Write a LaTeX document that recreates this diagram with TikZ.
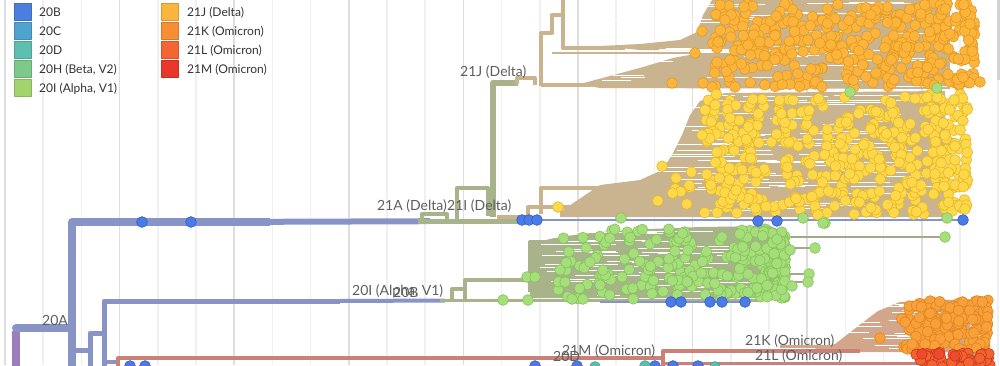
\documentclass[tikz,border=0pt]{standalone}
\usepackage{fontspec}
\setmainfont{Lato}
\definecolor{bb}{HTML}{8893C6}
\definecolor{pur}{HTML}{9C7FB8}
\definecolor{sage}{HTML}{A8B38B}
\definecolor{tanb}{HTML}{C9B48F}
\definecolor{sal}{HTML}{C98178}
\definecolor{omb}{HTML}{D2A68B}
\definecolor{gridl}{HTML}{F0F0F0}
\definecolor{gridd}{HTML}{DEDEDE}
\definecolor{labc}{HTML}{5E5E5E}
\definecolor{legc}{HTML}{333333}
\definecolor{cBlue}{HTML}{4C7BE6}
\definecolor{cBlueD}{HTML}{2F5CC8}
\definecolor{cTeal}{HTML}{5BBFB0}
\definecolor{cTealD}{HTML}{3FA393}
\definecolor{cGreen}{HTML}{A5DE7B}
\definecolor{cGreenD}{HTML}{86C25A}
\definecolor{cYel}{HTML}{FDD84B}
\definecolor{cYelD}{HTML}{E5B82A}
\definecolor{cOr}{HTML}{FBB43C}
\definecolor{cOrD}{HTML}{E39A22}
\definecolor{cOm}{HTML}{F8A03A}
\definecolor{cOmD}{HTML}{E2861F}
\definecolor{cRed}{HTML}{EE4A2C}
\definecolor{cRedD}{HTML}{CC3520}
\definecolor{l20B}{HTML}{4A7FDD}
\definecolor{l20C}{HTML}{4FA3CF}
\definecolor{l20D}{HTML}{5DBFAF}
\definecolor{l20H}{HTML}{7DC98A}
\definecolor{l20I}{HTML}{A2D46E}
\definecolor{l21J}{HTML}{F9B53D}
\definecolor{l21K}{HTML}{F78E35}
\definecolor{l21L}{HTML}{F46533}
\definecolor{l21M}{HTML}{E9372B}
\tikzset{
  lab/.style={text=labc, font=\fontsize{14}{16}\selectfont, inner sep=0pt, anchor=base west},
  legt/.style={text=legc, font=\fontsize{12}{14}\selectfont, inner sep=0pt, anchor=base west},
  sq/.style={minimum size=17pt, inner sep=0pt, draw=#1!85!black, fill=#1, line width=0.6pt},
  gapline/.style={white, line width=0.9pt},
}
% random white gaps: x1 x2 y1 y2 n maxlen
\newcommand\gapsW[6]{%
  \foreach \i in {1,...,#5}{%
    \pgfmathsetmacro\yy{#3+rnd*(#4-#3)}%
    \pgfmathsetmacro\xa{#1+rnd*(#2-#1)}%
    \pgfmathsetmacro\xb{\xa+15+rnd*#6}%
    \draw[gapline] (\xa,\yy)--(\xb,\yy);
  }}
% random dots: x1 x2 y1 y2 n fill draw exponent
\newcommand\scat[8]{%
  \foreach \i in {1,...,#5}{%
    \pgfmathsetmacro\yy{#3+rnd*(#4-#3)}%
    \pgfmathsetmacro\xx{#2-(#2-#1)*pow(rnd*0.998+0.002,#8)}%
    \filldraw[fill=#6,draw=#7,line width=0.6pt] (\xx,\yy) circle (5.4pt);
  }}
\newcommand\dotat[3]{\filldraw[fill=#1,draw=#2,line width=0.6pt] #3 circle (5.4pt);}
\begin{document}
\begin{tikzpicture}[x=1pt,y=-1pt,line join=round]
\useasboundingbox (0,0) rectangle (1000,365);
\begin{scope}
\clip (0,0) rectangle (1000,365);
\pgfmathsetseed{11}
% grid
\foreach \k in {0,...,26}{%
  \pgfmathsetmacro\gx{5+38.2*\k}%
  \pgfmathtruncatemacro\mm{mod(\k,3)}%
  \ifnum\mm=0 \draw[gridd,line width=1.5pt] (\gx,0)--(\gx,365);
  \else \draw[gridl,line width=1.5pt] (\gx,0)--(\gx,365);\fi}
\fill[gray!35] (996.5,0) rectangle (1000,80);
% ---- cluster envelopes
\fill[tanb] (600,46)--(640,44)--(680,40)--(697,32)--(703,15)--(712,0)--(950,0)--(950,50)--(640,50)--cycle;
\fill[tanb] (580,84)--(610,76)--(643,67)--(673,58)--(700,53)--(950,50)--(950,89)--(600,88)--cycle;
\fill[tanb] (600,185)--(640,180)--(662,170)--(672,155)--(682,135)--(690,115)--(700,101)--(725,93)--(945,91)--(945,217)--(560,217)--(560,212)--cycle;
\fill[sage] (530,244)--(558,237)--(600,232)--(650,229)--(700,227)--(770,226)--(785,232)--(785,296)--(760,298)--(530,298)--cycle;
\fill[omb] (835,344)--(848,334)--(862,323)--(878,311)--(900,302)--(970,299)--(970,352)--(800,352)--cycle;
% gaps
\gapsW{600}{900}{2}{88}{45}{80}
\gapsW{640}{900}{95}{214}{75}{90}
\gapsW{540}{740}{231}{296}{55}{60}
\gapsW{845}{910}{304}{349}{20}{40}
% ---- main tree
\draw[pur,line width=8pt] (16,372)--(16,331);
\draw[bb,line width=8pt,line cap=round] (16,328)--(72,328);
\draw[bb,line width=7.5pt] (72,372)--(72,222)--(270,222);
\draw[bb,line width=6pt] (268,221.8)--(430,221.2);
\draw[sage,line width=5pt] (418,221)--(522,221);
\draw[sage,line width=4pt] (422,221)--(422,214)--(447,214)--(447,221);
\draw[sage,line width=4pt] (457,221)--(457,188)--(488,188)--(488,216);
\draw[sage,line width=5.5pt] (493,217)--(493,83)--(518,83);
\draw[tanb,line width=4pt] (517,84)--(517,78)--(535,78)--(535,85);
\draw[tanb,line width=4.5pt] (541,86)--(541,33)--(552,33)--(552,15)--(563,15);
\draw[tanb,line width=4.5pt] (563,-5)--(563,48)--(625,48);
\draw[tanb,line width=2pt] (552,53)--(695,53);
\draw[tanb,line width=4.5pt] (541,85)--(690,85);
\draw[tanb,line width=4pt] (497,217)--(528,217)--(528,207)--(541,207);
\draw[tanb,line width=4pt] (541,214)--(541,188)--(650,188);
\draw[tanb,line width=4pt] (541,207)--(640,207);
\draw[bb,line width=2pt] (520,220)--(963,220);
% second branch
\draw[bb,line width=5pt] (104,372)--(104,301)--(340,301);
\draw[bb,line width=4pt] (338,301)--(445,300.5);
\draw[sage,line width=3.5pt] (440,300.5)--(760,300.5);
\draw[bb,line width=1.5pt] (600,302)--(746,302);
\draw[sage,line width=4pt] (452,300)--(452,289)--(465,289)--(465,300);
\draw[sage,line width=4pt] (465,300)--(465,280)--(532,280);
\draw[sage,line width=4pt] (530,292)--(530,242)--(560,242);
% small lower branches
\draw[bb,line width=5pt] (72,350)--(90,350);
\draw[bb,line width=5pt] (90,372)--(90,333)--(104,333);
\draw[bb,line width=4pt] (104,362)--(120,362);
\draw[sal,line width=4pt] (118,372)--(118,358)--(663,358);
\draw[sal,line width=4pt] (663,366)--(663,351)--(860,351);
\draw[sal,line width=3pt] (663,363.5)--(995,363.5);
\draw[omb,line width=3pt] (780,346)--(840,346);
% thin outlier lines
\draw[sage!80!gray,line width=1.5pt] (760,237)--(945,237);
\draw[sage!80!gray,line width=1.5pt] (760,248)--(815,248);
\draw[sage!80!gray,line width=1.5pt] (770,274)--(809,274);
\draw[sage!80!gray,line width=1.5pt] (770,282)--(808,282);
\draw[sage!80!gray,line width=1.5pt] (760,286)--(792,286);
\draw[tanb,line width=1.5pt] (940,82)--(980,82);
\draw[tanb,line width=1.5pt] (930,135)--(945,135);
\draw[tanb,line width=1.5pt] (930,146)--(955,146);
\draw[tanb,line width=1.5pt] (940,209)--(965,209);
% ---- dots
\scat{712}{975}{3}{87}{380}{cOr}{cOrD}{1.3}
\foreach \p in {(672,83),(703,83),(712,87),(735,87),(695,53),(717,48),(702,31),(718,42),(730,60),(748,45),(980,82),(970,24),(720,5),(725,20)}{\dotat{cOr}{cOrD}{\p}}
\scat{705}{968}{94}{215}{440}{cYel}{cYelD}{1.3}
\scat{655}{760}{150}{214}{25}{cYel}{cYelD}{1}
\foreach \p in {(558,207),(702,135),(717,152),(730,118),(705,110),(676,178),(965,209),(955,146),(945,135),(955,160)}{\dotat{cYel}{cYelD}{\p}}
\scat{555}{785}{229}{299}{270}{cGreen}{cGreenD}{2.3}
\foreach \p in {(503,300),(527,277),(535,277),(528,300),(572,299),(583,299),(621,218),(803,218),(825,223),(947,218),(850,92),(937,88),(945,237),(815,248),(809,274),(808,282),(792,286),(757,288),(790,250),(823,223),(560,270),(590,262),(600,285)}{\dotat{cGreen}{cGreenD}{\p}}
\foreach \p in {(142,222),(191,222),(522,220),(529,220),(537,220),(758,221),(777,221),(963,220),(671,302),(681,302),(710,302),(722,302),(745,302),(130,366),(145,366),(535,366),(577,366),(655,366),(673,366),(698,366)}{\dotat{cBlue}{cBlueD}{\p}}
\foreach \p in {(595,367),(645,366),(715,367)}{\dotat{cTeal}{cTealD}{\p}}
\scat{900}{988}{300}{350}{150}{cOm}{cOmD}{1.2}
\foreach \p in {(912,344),(925,344),(880,338)}{\dotat{cOm}{cOmD}{\p}}
\scat{915}{995}{352}{368}{50}{cRed!70!cOm}{cRedD}{1}
\foreach \p in {(922,354),(939,354),(955,356)}{\dotat{cRed}{cRedD}{\p}}
% ---- labels
\node[lab] (l20A) at (42,325) {20A};
\node[lab,anchor=base east] (l21A) at (447,210) {21A (Delta)};
\node[lab] (l21I) at (447,210) {21I (Delta)};
\node[lab] (l20I) at (352,295) {20I (Alpha, V1)};
\node[lab] (l20B) at (393,297) {20B};
\node[lab] (l21J) at (460,76) {21J (Delta)};
\node[lab] (l21M) at (562,355) {21M (Omicron)};
\node[lab] (l20D) at (553,361) {20D};
\node[lab] (l21K) at (745,345) {21K (Omicron)};
\node[lab] (l21L) at (755,360) {21L (Omicron)};
% ---- legend
\node[sq=l20B] (s1) at (22.5,11.5) {};
\node[sq=l20C] (s2) at (22.5,30.5) {};
\node[sq=l20D] (s3) at (22.5,49.5) {};
\node[sq=l20H] (s4) at (22.5,68.5) {};
\node[sq=l20I] (s5) at (22.5,87.5) {};
\node[legt] (t1) at (39,16) {20B};
\node[legt] (t2) at (39,35) {20C};
\node[legt] (t3) at (39,54) {20D};
\node[legt] (t4) at (39,73) {20H (Beta, V2)};
\node[legt] (t5) at (39,92) {20I (Alpha, V1)};
\node[sq=l21J] (s6) at (169.5,11.5) {};
\node[sq=l21K] (s7) at (169.5,30.5) {};
\node[sq=l21L] (s8) at (169.5,49.5) {};
\node[sq=l21M] (s9) at (169.5,68.5) {};
\node[legt] (t6) at (187,16) {21J (Delta)};
\node[legt] (t7) at (187,35) {21K (Omicron)};
\node[legt] (t8) at (187,54) {21L (Omicron)};
\node[legt] (t9) at (187,73) {21M (Omicron)};
\end{scope}
\end{tikzpicture}
\end{document}
